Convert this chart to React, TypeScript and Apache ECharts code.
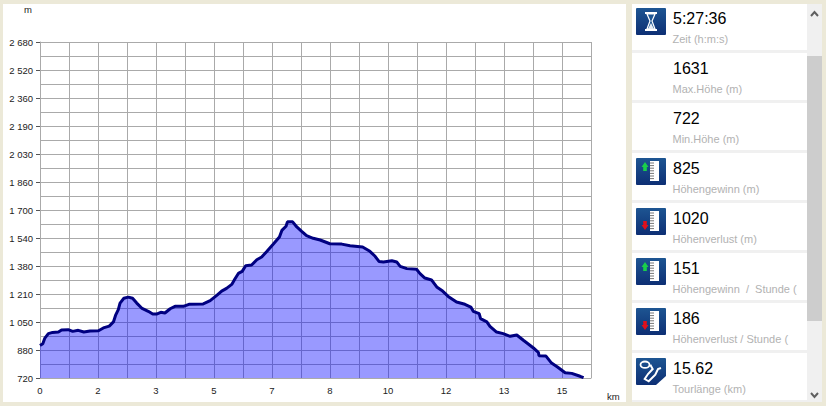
import React, { useEffect, useRef } from "react";
import * as echarts from "echarts";

const profile: [number, number][] = [
  [0, 910], [0.08, 920], [0.14, 953], [0.24, 979], [0.36, 986], [0.53, 988], [0.62, 1000], [0.81, 1002],
  [0.94, 992], [1.1, 998], [1.26, 988], [1.44, 994], [1.68, 996], [1.82, 1012], [1.99, 1023], [2.11, 1047],
  [2.17, 1085], [2.25, 1119], [2.3, 1157], [2.41, 1185], [2.54, 1192], [2.66, 1185], [2.78, 1157], [2.92, 1128],
  [3.11, 1109], [3.24, 1093], [3.35, 1093], [3.47, 1103], [3.59, 1099], [3.74, 1124], [3.88, 1138], [4.12, 1138],
  [4.28, 1150], [4.69, 1152], [4.89, 1171], [5.08, 1202], [5.22, 1227], [5.36, 1243], [5.51, 1266], [5.6, 1297],
  [5.7, 1330], [5.81, 1342], [5.91, 1375], [6.08, 1379], [6.23, 1410], [6.37, 1426], [6.51, 1457], [6.7, 1500],
  [6.88, 1542], [6.95, 1581], [7.07, 1605], [7.11, 1631], [7.26, 1631], [7.38, 1601], [7.52, 1575], [7.66, 1550],
  [7.85, 1535], [8.05, 1525], [8.33, 1503], [8.67, 1501], [8.91, 1492], [9.27, 1484], [9.48, 1459], [9.63, 1430],
  [9.74, 1400], [9.87, 1397], [10.11, 1404], [10.25, 1397], [10.35, 1371], [10.54, 1358], [10.82, 1354], [10.92, 1329],
  [11.06, 1303], [11.25, 1292], [11.4, 1251], [11.57, 1227], [11.73, 1196], [11.97, 1163], [12.21, 1150], [12.38, 1134],
  [12.45, 1109], [12.62, 1095], [12.66, 1066], [12.84, 1047], [12.93, 1021], [13.12, 988], [13.31, 979], [13.51, 963],
  [13.7, 971], [13.89, 940], [14.18, 895], [14.32, 870], [14.34, 850], [14.54, 848], [14.7, 807], [14.87, 784],
  [15.09, 751], [15.28, 747], [15.52, 730], [15.62, 722],
];

const yMin = 720;
const yMax = 2680;
const yLabelCount = 12;
const yTickLabels = ["720", "880", "1 050", "1 210", "1 380", "1 540", "1 700", "1 860", "2 030", "2 190", "2 360", "2 520", "2 680"];
const xTickLabels = ["0", "2", "3", "5", "7", "8", "10", "12", "13", "15"];
const xStep = 5 / 6;
const xMax = 95 / 6;

const statValues = ["5:27:36", "1631", "722", "825", "1020", "151", "186", "15.62"];
const statLabels = ["Zeit (h:m:s)", "Max.Höhe (m)", "Min.Höhe (m)", "Höhengewinn (m)", "Höhenverlust (m)", "Höhengewinn  /  Stunde (", "Höhenverlust / Stunde (", "Tourlänge (km)"];
const statIcons = ["time", "", "", "up", "down", "up", "down", "track"];

const yLabelStep = (yMax - yMin) / yLabelCount;
const yValues = yTickLabels.map((_, i) => yMin + i * yLabelStep);
const xValues = xTickLabels.map((_, i) => i * 2 * xStep);

const iconBg = {
  type: "linear", x: 0, y: 0, x2: 0, y2: 1,
  colorStops: [{ offset: 0, color: "#1d5592" }, { offset: 1, color: "#0d2f74" }],
};

function ruler(top: number, up: boolean): any[] {
  const els: any[] = [
    { type: "rect", shape: { x: 650, y: top + 3, width: 9, height: 20 }, style: { fill: "#ffffff" } },
  ];
  for (let i = 0; i < 7; i++) {
    els.push({ type: "line", shape: { x1: 650, y1: top + 5 + i * 2.6, x2: 654, y2: top + 5 + i * 2.6 }, style: { stroke: "#777777", lineWidth: 1 } });
  }
  const a = up
    ? [[645, top + 4], [648.5, top + 9], [646.8, top + 9], [646.8, top + 13], [643.2, top + 13], [643.2, top + 9], [641.5, top + 9]]
    : [[645, top + 22], [648.5, top + 17], [646.8, top + 17], [646.8, top + 13], [643.2, top + 13], [643.2, top + 17], [641.5, top + 17]];
  els.push({ type: "polygon", shape: { points: a }, style: { fill: up ? "#19d04a" : "#e0101c" } });
  return els;
}

function iconElements(kind: string, top: number): any[] {
  if (!kind) return [];
  const els: any[] = [
    { type: "rect", shape: { x: 636, y: top, width: 30, height: 27, r: 1 }, style: { fill: iconBg } },
  ];
  if (kind === "time") {
    els.push(
      { type: "rect", shape: { x: 645, y: top + 4, width: 12, height: 2 }, style: { fill: "#ffffff" } },
      { type: "rect", shape: { x: 645, y: top + 21, width: 12, height: 2 }, style: { fill: "#ffffff" } },
      { type: "polygon", shape: { points: [[647, top + 6], [655, top + 6], [652, top + 13], [655, top + 21], [647, top + 21], [650, top + 13]] }, style: { fill: "#1d5592", stroke: "#ffffff", lineWidth: 1.2 } },
      { type: "polygon", shape: { points: [[651, top + 15], [654, top + 21], [648, top + 21]] }, style: { fill: "#e8eef6" } },
    );
  } else if (kind === "up" || kind === "down") {
    els.push(...ruler(top, kind === "up"));
  } else if (kind === "track") {
    els.push(
      { type: "polygon", shape: { points: [[666, top + 18], [666, top + 27], [656, top + 27]] }, style: { fill: "#ffffff" } },
      { type: "polyline", shape: { points: [[650.3, top + 6.7], [652.7, top + 11], [648, top + 16], [644.7, top + 21], [648.7, top + 23.3], [655.3, top + 16.7], [658, top + 11], [661, top + 10]] }, style: { stroke: "#ffffff", fill: "none", lineWidth: 2 } },
      { type: "ellipse", shape: { cx: 645, cy: top + 6.7, rx: 4.5, ry: 3.2 }, style: { fill: "none", stroke: "#ffffff", lineWidth: 1.8 } },
    );
  }
  return els;
}

function panelElements(): any[] {
  const els: any[] = [
    { type: "rect", z: -10, shape: { x: 3, y: 4, width: 623, height: 398 }, style: { fill: "#ffffff" } },
    { type: "rect", z: -10, shape: { x: 632, y: 4, width: 175, height: 398 }, style: { fill: "#f0f0f0" } },
    { type: "rect", z: -10, shape: { x: 807, y: 4, width: 15, height: 398 }, style: { fill: "#f0f0f0" } },
    { type: "rect", z: -9, shape: { x: 807, y: 56, width: 15, height: 265 }, style: { fill: "#cdcdcd" } },
    { type: "polyline", shape: { points: [[811, 16], [814.5, 12], [818, 16]] }, style: { stroke: "#606060", fill: "none", lineWidth: 2 } },
    { type: "polyline", shape: { points: [[811, 393], [814.5, 397], [818, 393]] }, style: { stroke: "#606060", fill: "none", lineWidth: 2 } },
  ];
  statValues.forEach((v, i) => {
    const base = i * 50;
    els.push({ type: "rect", z: -9, shape: { x: 632, y: base + (i === 0 ? 4 : 3), width: 175, height: i === 0 ? 46 : 47 }, style: { fill: "#ffffff" } });
    els.push(...iconElements(statIcons[i], base + 8));
    els.push({ type: "text", x: 673, y: base + 18, style: { text: v, fontFamily: "Liberation Sans", fontSize: 16, fill: "#000000", verticalAlign: "middle" } });
    els.push({ type: "text", x: 672.5, y: base + 39, style: { text: statLabels[i], fontFamily: "Liberation Sans", fontSize: 11, fill: "#b2b2b2", verticalAlign: "middle" } });
  });
  return els;
}

export default function App() {
  const ref = useRef<HTMLDivElement>(null);
  useEffect(() => {
    const chart = echarts.init(ref.current!, null, { renderer: "svg" });
    const font = { fontFamily: "Liberation Sans", fontSize: 9.5, color: "#222222" };
    chart.setOption({
      animation: false,
      backgroundColor: "#ece9d8",
      grid: { left: 40, top: 42, width: 551, height: 336 },
      graphic: { elements: panelElements() },
      xAxis: {
        type: "value",
        min: 0,
        max: xMax,
        interval: xStep,
        name: "km",
        nameLocation: "end",
        nameGap: 16,
        nameTextStyle: { ...font, verticalAlign: "top", padding: [13, 0, 0, 0] },
        axisLine: { lineStyle: { color: "#aaaaaa" } },
        axisTick: { show: false },
        axisLabel: {
          ...font,
          margin: 7,
          customValues: xValues,
          formatter: (v: number) => xTickLabels[Math.round(v / (2 * xStep))] ?? "",
        },
        splitLine: { show: true, lineStyle: { color: "#aaaaaa", width: 1 } },
      },
      yAxis: [
        {
          type: "value",
          min: yMin,
          max: yMax,
          name: "m",
          nameLocation: "end",
          nameGap: 28,
          nameTextStyle: { ...font, padding: [0, 24, 0, 0] },
          axisLine: { show: true, lineStyle: { color: "#aaaaaa" } },
          axisTick: { show: true, length: 4, customValues: yValues, lineStyle: { color: "#555555" } },
          axisLabel: {
            ...font,
            margin: 7,
            customValues: yValues,
            formatter: (v: number) => yTickLabels[Math.round((v - yMin) / yLabelStep)] ?? "",
          },
          splitLine: { show: false },
        },
        {
          type: "value",
          min: 0,
          max: yLabelCount * 2,
          interval: 1,
          axisLine: { show: false },
          axisTick: { show: false },
          axisLabel: { show: false },
          splitLine: { show: true, lineStyle: { color: "#aaaaaa", width: 1 } },
        },
      ],
      series: [
        {
          type: "line",
          data: profile,
          yAxisIndex: 0,
          showSymbol: false,
          smooth: false,
          lineStyle: { color: "#000080", width: 3 },
          areaStyle: { color: "rgba(0,0,255,0.4)", opacity: 1 },
        },
      ],
    });
    return () => chart.dispose();
  }, []);
  return <div ref={ref} style={{ position: "fixed", left: 0, top: 0, width: 826, height: 406 }} />;
}
